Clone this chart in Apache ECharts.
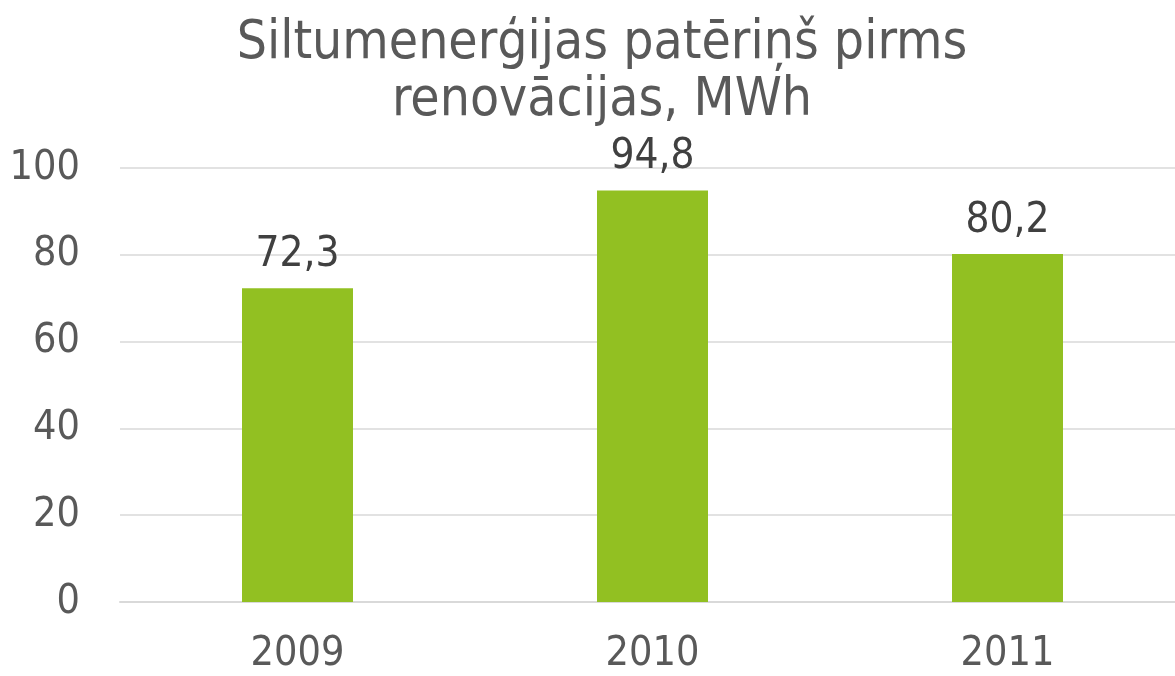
<!DOCTYPE html>
<html><head><meta charset="utf-8">
<script src="https://cdn.jsdelivr.net/npm/echarts@6/dist/echarts.min.js"></script>
<style>html,body{margin:0;padding:0;background:#fff}#c{width:1175px;height:676px}</style>
</head><body><div id="c"></div>
<script>
const titleText = 'Siltumenerģijas patēriņš pirms\nrenovācijas, MWh';
const categories = ['2009', '2010', '2011'];
const values = [72.3, 94.8, 80.2];
const yTicks = { min: 0, max: 100, interval: 20 };
const FONT = '"DejaVu Sans Condensed", "DejaVu Sans", sans-serif';

const chart = echarts.init(document.getElementById('c'), null, { renderer: 'canvas' });
chart.setOption({
  animation: false,
  title: {
    text: titleText, left: 602, top: 16, padding: 0, textAlign: 'center',
    textStyle: { fontFamily: FONT, fontSize: 53, fontWeight: 'normal', color: '#595959', lineHeight: 57 }
  },
  grid: { left: 120, top: 168, width: 1065, height: 434, containLabel: false, outerBoundsMode: 'none' },
  xAxis: {
    type: 'category', data: categories,
    axisLine: { show: true, lineStyle: { color: '#d9d9d9', width: 2 } },
    axisTick: { show: false },
    axisLabel: { fontFamily: FONT, fontSize: 41, color: '#595959', margin: 32 }
  },
  yAxis: {
    type: 'value', min: yTicks.min, max: yTicks.max, interval: yTicks.interval,
    axisLine: { show: false }, axisTick: { show: false },
    splitLine: { lineStyle: { color: '#d9d9d9', width: 1.5 } },
    axisLabel: { fontFamily: FONT, fontSize: 41, color: '#595959', margin: 40 }
  },
  series: [{
    type: 'bar', data: values, barWidth: 111,
    itemStyle: { color: '#92C022' },
    label: {
      show: true, position: 'top', distance: 12,
      fontFamily: FONT, fontSize: 42, color: '#404040',
      formatter: p => p.value.toFixed(1).replace('.', ',')
    }
  }]
});
</script></body></html>
